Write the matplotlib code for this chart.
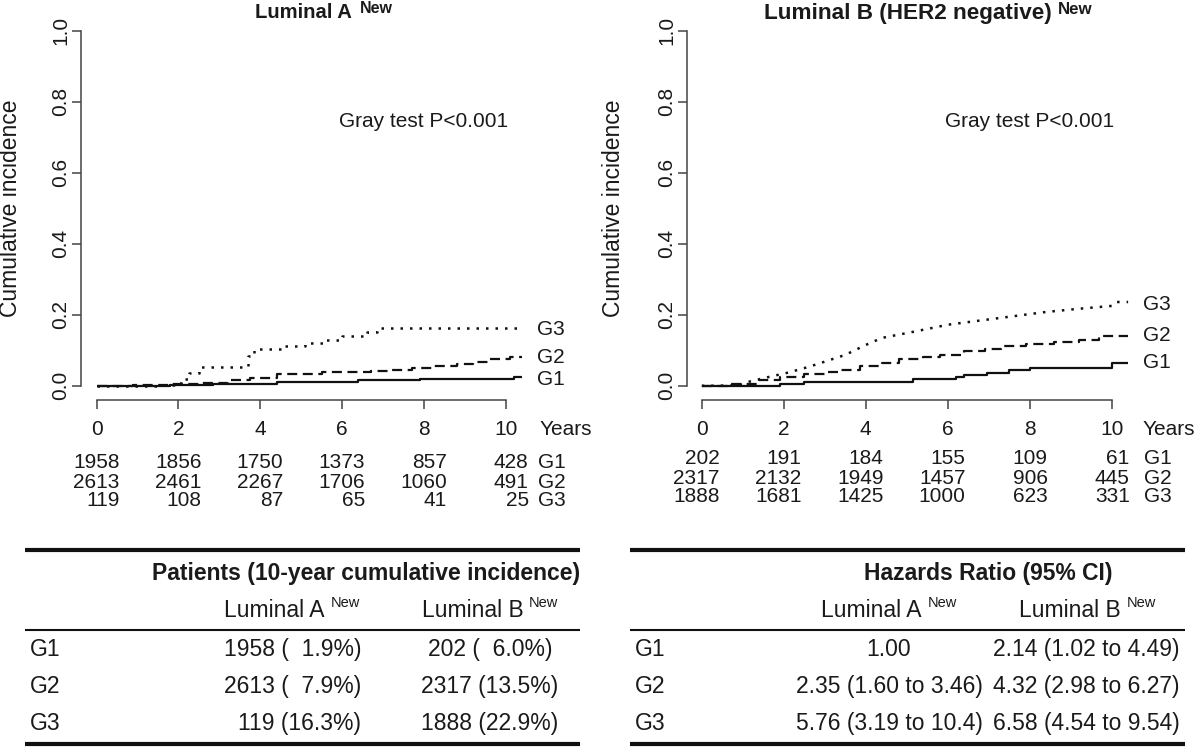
import matplotlib
matplotlib.use('Agg')
import matplotlib.pyplot as plt
import matplotlib.transforms as mtransforms
from matplotlib.lines import Line2D

plt.rcParams['font.family'] = ['Liberation Sans', 'DejaVu Sans']

# ---------------- data ----------------
years_ticks = [0, 2, 4, 6, 8, 10]
y_ticks = [0.0, 0.2, 0.4, 0.6, 0.8, 1.0]
groups = ['G1', 'G2', 'G3']

# Luminal A (step functions: times, values)
la_g1_t = [0, 1.8, 2.85, 4.4, 6.4, 7.9, 8.4, 10.2, 10.4]
la_g1_v = [0, 0.003, 0.006, 0.011, 0.015, 0.018, 0.020, 0.026]
la_g2_t = [0, 0.9, 1.8, 2.5, 3.2, 3.75, 4.4, 5.5, 6.7, 7.2, 7.7, 8.2, 8.8, 9.2, 9.6, 10.1, 10.4]
la_g2_v = [0, 0.002, 0.006, 0.009, 0.017, 0.023, 0.032, 0.038, 0.042, 0.045, 0.049, 0.055, 0.061, 0.068, 0.076, 0.080]
la_g3_t = [0, 1.6, 1.9, 2.1, 2.25, 2.5, 3.7, 3.85, 4.6, 5.1, 5.6, 6.0, 6.6, 6.85, 10.4]
la_g3_v = [0, 0.002, 0.009, 0.02, 0.035, 0.054, 0.085, 0.103, 0.113, 0.12, 0.128, 0.141, 0.152, 0.163]

# Luminal B
lb_g1_t = [0, 1.9, 2.5, 5.15, 6.2, 6.4, 6.95, 7.5, 8.0, 10.0, 10.4]
lb_g1_v = [0, 0.006, 0.012, 0.019, 0.026, 0.031, 0.037, 0.044, 0.050, 0.063]
lb_g2_t = [0, 0.7, 1.4, 1.9, 2.5, 3.0, 3.4, 3.85, 4.4, 4.8, 5.4, 5.8, 6.4, 6.9, 7.3, 7.9, 8.6, 9.2, 9.7, 10.4]
lb_g2_v = [0, 0.005, 0.017, 0.024, 0.034, 0.040, 0.045, 0.055, 0.064, 0.075, 0.081, 0.087, 0.097, 0.103, 0.111, 0.117, 0.122, 0.130, 0.140]
lb_g3_t = [0, 0.9, 1.1, 1.6, 2.1, 2.6, 3.0, 3.5, 4.0, 4.4, 5.2, 6.0, 6.8, 7.6, 8.4, 9.2, 10.0, 10.1, 10.4]
lb_g3_v = [0, 0.001, 0.01, 0.024, 0.037, 0.053, 0.068, 0.087, 0.115, 0.135, 0.153, 0.172, 0.184, 0.196, 0.208, 0.217, 0.225, 0.236, 0.236]

# curve end label heights
la_label_y = [0.017, 0.079, 0.158]
lb_label_y = [0.066, 0.141, 0.228]

# numbers at risk
la_risk = {'G1': [1958, 1856, 1750, 1373, 857, 428],
           'G2': [2613, 2461, 2267, 1706, 1060, 491],
           'G3': [119, 108, 87, 65, 41, 25]}
lb_risk = {'G1': [202, 191, 184, 155, 109, 61],
           'G2': [2317, 2132, 1949, 1457, 906, 445],
           'G3': [1888, 1681, 1425, 1000, 623, 331]}

# tables
patients_lumA = ['1958 (  1.9%)', '2613 (  7.9%)', '119 (16.3%)']
patients_lumB = ['202 (  6.0%)', '2317 (13.5%)', '1888 (22.9%)']
hr_lumA = ['1.00', '2.35 (1.60 to 3.46)', '5.76 (3.19 to 10.4)']
hr_lumB = ['2.14 (1.02 to 4.49)', '4.32 (2.98 to 6.27)', '6.58 (4.54 to 9.54)']

# ---------------- figure ----------------
W, H = 1200, 747
fig = plt.figure(figsize=(W / 100, H / 100), dpi=100)


def fx(px):
    return px / W


def fy(py):
    return 1 - py / H


TXT = '#1a1a1a'
AXC = '#444444'
LINEC = '#111111'

axL = fig.add_axes([fx(80.7), fy(400), 457.7 / W, 383.4 / H])
axR = fig.add_axes([fx(686.7), fy(400), 457.8 / W, 383.4 / H])
axL.set_xlim(-0.39, 10.8)
axR.set_xlim(-0.366, 10.8)

styles = [dict(ls='-', lw=1.6),
          dict(ls=(0, (4.5, 2.5)), lw=1.6),
          dict(ls=(0, (1, 2.8)), lw=1.8)]

for ax in (axL, axR):
    ax.set_ylim(-0.04, 1.04)
    ax.patch.set_alpha(0)
    for s in ('top', 'right'):
        ax.spines[s].set_visible(False)
    for s in ('left', 'bottom'):
        ax.spines[s].set_color(AXC)
        ax.spines[s].set_linewidth(1.1)
    ax.spines['left'].set_bounds(0, 1)
    ax.spines['bottom'].set_bounds(0, 10)
    ax.set_xticks(years_ticks)
    ax.set_xticklabels([str(t) for t in years_ticks])
    ax.set_yticks(y_ticks)
    ax.set_yticklabels(['%.1f' % v for v in y_ticks], rotation=90, va='center')
    ax.tick_params(axis='both', direction='out', length=6.3, width=1.1,
                   color=AXC, labelcolor=TXT, labelsize=15)
    ax.tick_params(axis='x', pad=8)
    ax.tick_params(axis='y', pad=1)
    ax.text(8.0, 0.745, 'Gray test P<0.001', ha='center', va='center',
            fontsize=15, color=TXT)


def step(ax, t, v, st):
    ax.plot(t, list(v) + [v[-1]], drawstyle='steps-post', color=LINEC,
            solid_capstyle='butt', dash_capstyle='butt', **st)


step(axL, la_g1_t, la_g1_v, styles[0])
step(axL, la_g2_t, la_g2_v, styles[1])
step(axL, la_g3_t, la_g3_v, styles[2])
step(axR, lb_g1_t, lb_g1_v, styles[0])
step(axR, lb_g2_t, lb_g2_v, styles[1])
axR.plot(lb_g3_t, lb_g3_v, color=LINEC, **styles[2])

for ax, ys in ((axL, la_label_y), (axR, lb_label_y)):
    for g, yv in zip(groups, ys):
        ax.text(10.76, yv, g, ha='left', va='center', fontsize=15, color=TXT)

# numbers at risk
for ax, risk, dx, rows_base, ydx in ((axL, la_risk, 23, [467.5, 487.5, 506.5], 34),
                                     (axR, lb_risk, 18, [464, 483.5, 502.5], 31)):
    blend = mtransforms.blended_transform_factory(ax.transData, fig.transFigure)
    off_num = mtransforms.ScaledTranslation(dx / 100, 0, fig.dpi_scale_trans)
    off_g = mtransforms.ScaledTranslation(32 / 100, 0, fig.dpi_scale_trans)
    off_y = mtransforms.ScaledTranslation(ydx / 100, 0, fig.dpi_scale_trans)
    for g, yb in zip(groups, rows_base):
        for t, n in zip(years_ticks, risk[g]):
            ax.text(t, fy(yb), str(n), transform=blend + off_num, ha='right',
                    va='baseline', fontsize=15, color=TXT)
        ax.text(years_ticks[-1], fy(yb), g, transform=blend + off_g, ha='left',
                va='baseline', fontsize=15, color=TXT)
    ax.text(years_ticks[-1], fy(435), 'Years', transform=blend + off_y,
            ha='left', va='baseline', fontsize=15, color=TXT)

# y labels
fig.text(fx(11), fy(208), 'Cumulative incidence', rotation=90, ha='center',
         va='center', fontsize=16.5, color=TXT)
fig.text(fx(614), fy(208), 'Cumulative incidence', rotation=90, ha='center',
         va='center', fontsize=16.5, color=TXT)


def with_sup(x_px, y_px, main, size, supsize, weight, ha='left', dx=6, raise_px=5):
    t = fig.text(fx(x_px), fy(y_px), main, ha=ha, va='baseline', fontsize=size,
                 fontweight=weight, color=TXT)
    fig.canvas.draw()
    bb = t.get_window_extent()
    fig.text((bb.x1 + dx) / W, fy(y_px - raise_px), 'New',
             ha='left', va='baseline', fontsize=supsize, fontweight=weight, color=TXT)
    return t


# titles
with_sup(254.8, 18.5, 'Luminal A', 14.6, 11.5, 'bold', dx=8, raise_px=5.5)
with_sup(764, 19, 'Luminal B (HER2 negative)', 16.2, 12.2, 'bold', dx=6, raise_px=5.5)

# ---------------- tables ----------------
def hline(x0, x1, y, lw):
    fig.add_artist(Line2D([fx(x0), fx(x1)], [fy(y), fy(y)], transform=fig.transFigure,
                          color='#111111', lw=lw, solid_capstyle='butt'))


for (x0, x1) in ((25, 580), (630, 1185)):
    hline(x0, x1, 550, 3.0)
    hline(x0, x1, 629.5, 1.5)
    hline(x0, x1, 743.5, 3.0)

TS = 16.5
fig.text(fx(580), fy(579.7), 'Patients (10-year cumulative incidence)', ha='right',
         va='baseline', fontsize=TS, fontweight='bold', color=TXT)
fig.text(fx(988.5), fy(579.7), 'Hazards Ratio (95% CI)', ha='center',
         va='baseline', fontsize=TS, fontweight='bold', color=TXT)

for xm in (224, 421.5, 820.8, 1018.8):
    lab = 'Luminal A' if xm in (224, 820.8) else 'Luminal B'
    with_sup(xm, 617.3, lab, TS, 10.5, 'normal', dx=6, raise_px=10.6)

row_base = [656, 693.3, 730]
for i, g in enumerate(groups):
    yb = fy(row_base[i])
    fig.text(fx(30), yb, g, ha='left', va='baseline', fontsize=TS, color=TXT)
    fig.text(fx(634.7), yb, g, ha='left', va='baseline', fontsize=TS, color=TXT)
    fig.text(fx(361), yb, patients_lumA[i], ha='right', va='baseline', fontsize=TS, color=TXT)
    fig.text(fx(490), yb, patients_lumB[i], ha='center', va='baseline', fontsize=TS, color=TXT)
    fig.text(fx(889), yb, hr_lumA[i], ha='center', va='baseline', fontsize=TS, color=TXT)
    fig.text(fx(1086), yb, hr_lumB[i], ha='center', va='baseline', fontsize=TS, color=TXT)

fig.savefig('out.png', dpi=100)
